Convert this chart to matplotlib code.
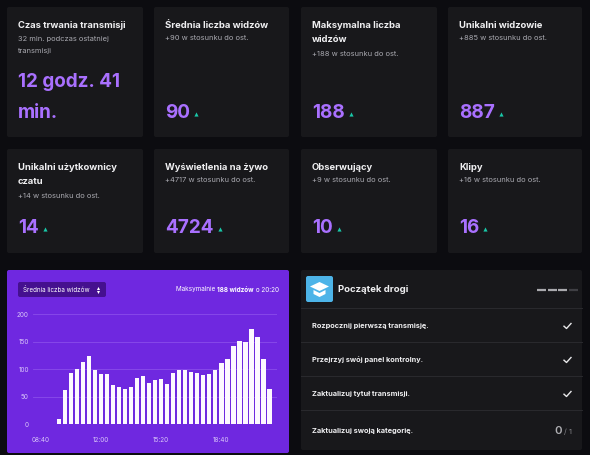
import matplotlib
matplotlib.use("Agg")
import matplotlib.pyplot as plt
from matplotlib.patches import FancyBboxPatch, Polygon

plt.rcParams['font.family'] = ['Inter', 'DejaVu Sans']

W, H = 590, 455
BG, CARD, PURPLE, DARKP = '#0c0c10', '#18181b', '#6f28e0', '#45108f'
NUM, SUB, TEAL = '#a970ff', '#a9a9b0', '#19c7a8'

# --- chart data ---
times = ['08:40', '09:00', '09:20', '09:40', '10:00', '10:20', '10:40', '11:00', '11:20', '11:40',
         '12:00', '12:20', '12:40', '13:00', '13:20', '13:40', '14:00', '14:20', '14:40', '15:00',
         '15:20', '15:40', '16:00', '16:20', '16:40', '17:00', '17:20', '17:40', '18:00', '18:20',
         '18:40', '19:00', '19:20', '19:40', '20:00', '20:20', '20:40', '21:00', '21:20']
viewers = [0, 0, 0, 9, 62, 93, 101, 113, 124, 99,
           91, 91, 71, 68, 65, 68, 84, 87, 76, 80,
           83, 74, 93, 99, 99, 96, 94, 90, 91, 98,
           112, 119, 142, 151, 149, 173, 159, 119, 65]
y_ticks = [0, 50, 100, 150, 200]
x_ticks = ['08:40', '12:00', '15:20', '18:40']

# --- stat cards ---
card_titles = [['Czas trwania transmisji'], ['Średnia liczba widzów'], ['Maksymalna liczba', 'widzów'],
               ['Unikalni widzowie'], ['Unikalni użytkownicy', 'czatu'], ['Wyświetlenia na żywo'],
               ['Obserwujący'], ['Klipy']]
card_subs = [['32 min. podczas ostatniej', 'transmisji'], ['+90 w stosunku do ost.'],
             ['+188 w stosunku do ost.'], ['+885 w stosunku do ost.'], ['+14 w stosunku do ost.'],
             ['+4717 w stosunku do ost.'], ['+9 w stosunku do ost.'], ['+16 w stosunku do ost.']]
card_values = [['12 godz. 41', 'min.'], ['90'], ['188'], ['887'], ['14'], ['4724'], ['10'], ['16']]
tasks = ['Rozpocznij pierwszą transmisję.', 'Przejrzyj swój panel kontrolny.',
         'Zaktualizuj tytuł transmisji.', 'Zaktualizuj swoją kategorię.']

fig = plt.figure(figsize=(W / 100, H / 100), dpi=100, facecolor=BG)
bg = fig.add_axes([0, 0, 1, 1])
bg.set_xlim(0, W); bg.set_ylim(H, 0); bg.axis('off')


def panel(x0, y0, x1, y1, color=CARD):
    bg.add_patch(FancyBboxPatch((x0 + 2, y0 + 2), x1 - x0 - 4, y1 - y0 - 4,
                                boxstyle='round,pad=2,rounding_size=2', fc=color, ec='none'))


col_x = [(7, 143), (154, 289), (301, 437), (448, 582)]
row_y = [(7, 137), (149, 253)]
line_gap = 15
for i in range(8):
    cx0, cx1 = col_x[i % 4]
    ry0, ry1 = row_y[i // 4]
    panel(cx0, ry0, cx1, ry1)
    tx = cx0 + 11
    y = ry0 + 18
    for ln in card_titles[i]:
        bg.text(tx, y, ln, color='#efeff1', fontsize=6.8, fontweight='bold', va='center')
        y += line_gap
    y -= 1.5
    for ln in card_subs[i]:
        bg.text(tx, y, ln, color=SUB, fontsize=5.4, va='center')
        y += 12
    base = 113 if i < 4 else 228
    vals = card_values[i]
    for k, ln in enumerate(vals):
        t = bg.text(tx, base - (len(vals) - 1 - k) * 31, ln, color=NUM, fontsize=13.6,
                    fontweight='bold', va='center')
    if len(vals) == 1:
        fig.canvas.draw()
        e = t.get_window_extent()
        bg.plot([e.x1 + 6], [base + 0.5], marker='^', ms=3, color=TEAL, mew=0)

# --- chart panel ---
panel(7, 270, 289, 453, PURPLE)
panel(18, 282, 106, 297, DARKP)
bg.text(23, 289.5, 'Średnia liczba widzów', color='white', fontsize=4.5, va='center')
bg.plot([97.5], [287.5], marker='^', ms=2.2, color='white', mew=0)
bg.plot([97.5], [291.5], marker='v', ms=2.2, color='white', mew=0)

# right-aligned mixed-weight caption
x = 278.5
for s, w in [(' o 20:20', 'normal'), ('188 widzów', 'bold'), ('Maksymalnie ', 'normal')]:
    t = bg.text(x, 289.5, s.replace(' ', '\u00a0'), color='white', fontsize=4.6, fontweight=w,
                va='center', ha='right')
    fig.canvas.draw()
    x = t.get_window_extent().x0

ax = fig.add_axes([33 / W, 1 - 424.3 / H, (277 - 33) / W, 110 / H])
ax.patch.set_alpha(0)
ax.bar(times, viewers, width=0.73, color='#fdf8ff', zorder=3)
ax.set_xlim(-1.28, 39.25)
ax.set_ylim(0, 200)
ax.set_yticks(y_ticks)
ax.set_xticks(x_ticks)
ax.grid(axis='y', color='#8a4dea', lw=0.6, zorder=0)
ax.axhline(0, color='#8a4dea', lw=0.6, zorder=1)
ax.tick_params(length=0, labelsize=4.6, labelcolor='#d8c5f8', pad=3)
ax.tick_params(axis='x', pad=9)
for s in ax.spines.values():
    s.set_visible(False)

# --- right panel ---
panel(301, 270, 582, 450)
for yy in [308, 342, 376, 410]:
    bg.plot([301, 582], [yy, yy], color='#2a2a2e', lw=0.7)
panel(306, 276, 333, 302, '#4db4e8')
bg.add_patch(Polygon([(319.5, 282), (329, 286.5), (319.5, 291), (310, 286.5)], fc='white', ec='none'))
bg.add_patch(Polygon([(313.5, 290), (319.5, 293), (325.5, 290), (325.5, 294), (319.5, 297), (313.5, 294)],
                     fc='white', ec='none'))
bg.text(338.5, 289.5, 'Początek drogi', color='#efeff1', fontsize=6.9, fontweight='bold', va='center')
for k, (a, b) in enumerate([(536.5, 545.5), (547.5, 556.5), (558, 567), (569, 578)]):
    bg.plot([a, b], [289.5, 289.5], color='#a9a9ad' if k < 3 else '#3f3f44', lw=1.6, solid_capstyle='butt')

for k, (ln, yy) in enumerate(zip(tasks, [326, 360, 394, 431])):
    bg.text(312, yy, ln, color='#efeff1', fontsize=5.3, fontweight='bold', va='center')
    if k < 3:
        bg.plot([564, 566.5, 571], [yy + 0.2, yy + 2.5, yy - 2.5], color='#e8e8ea', lw=1.0)
bg.text(554, 430.5, '0', color='#b0b0b4', fontsize=8.2, fontweight='semibold', va='center')
bg.text(564.5, 431.5, '/ 1', color='#85858a', fontsize=5.5, va='center')

fig.savefig('out.png', dpi=100, facecolor=BG)
